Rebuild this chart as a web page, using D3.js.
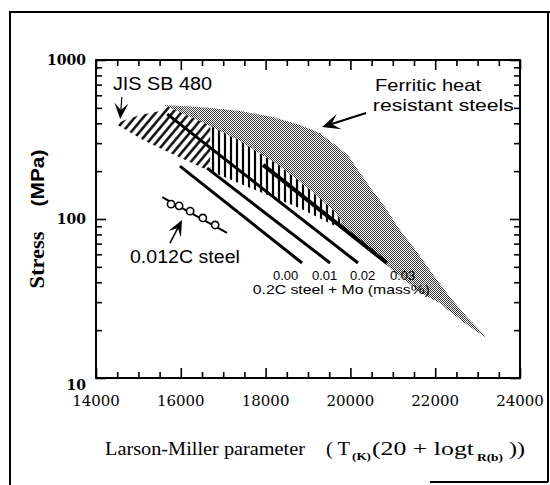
<!DOCTYPE html>
<html>
<head>
<meta charset="utf-8">
<script src="https://cdn.jsdelivr.net/npm/d3@7"></script>
<style>
  body { margin: 0; background: #fff; }
  text { fill: #000; }
</style>
</head>
<body>
<div class="chart"></div>
<script>
// Larson-Miller parameter vs stress

// dotted band "Ferritic heat resistant steels": upper edge, then lower edge back from the tip
const ferriticUpper = [
  [15630, 521], [16450, 506], [17400, 478], [18170, 438], [18810, 390],
  [19280, 347], [19640, 292], [19940, 253], [20230, 195], [20530, 150],
  [20820, 119], [21100, 90.4], [21410, 70.6], [21710, 55.2], [22040, 41.3],
  [22350, 32.3], [22750, 24.2], [23170, 18.6]
];
const ferriticLower = [
  [23170, 18.1], [22660, 22.5], [22110, 29.5], [21640, 34.6], [21170, 43.8],
  [20820, 52.1], [20230, 70.6], [19750, 91.7], [19050, 131.7], [18340, 189],
  [17400, 271.6], [16450, 373], [15650, 485]
];

// hatched band "JIS SB 480"
const jisBand = [
  [14470, 396], [14680, 419], [15040, 451], [15510, 478], [15650, 514],
  [16450, 413], [17400, 309], [18340, 215], [19050, 152], [19640, 110.7],
  [19800, 95.7], [19640, 90.4], [18810, 117], [17630, 157], [16520, 209],
  [15750, 260], [15110, 314]
];

// 0.2C steel + Mo lines
const moLevels = ["0.00", "0.01", "0.02", "0.03"];
const moStart = [[15980, 215], [16620, 209], [15680, 457], [17940, 219]];
const moEnd = [[18860, 52.9], [19520, 52.9], [20180, 52.9], [20860, 52.9]];
const moLabelX = [18175, 19094, 19991, 20934];
const moWidth = [3, 3, 3, 4];

// 0.012C steel
const lowCLine = [[15560, 137.5], [17090, 81.7]];
const lowCPoints = [[15770, 124], [15960, 121], [16220, 112], [16520, 101.5], [16810, 91.7]];

const xTicks = [14000, 16000, 18000, 20000, 22000, 24000];
const yTicks = [10, 100, 1000];

const width = 550;
const height = 485;
const margin = { top: 60, right: 30, bottom: 107, left: 96 };

const svg = d3.select(".chart")
  .append("svg")
  .attr("width", width)
  .attr("height", height);

const x = d3.scaleLinear()
  .domain([14000, 24000])
  .range([margin.left, width - margin.right]);

const y = d3.scaleLog()
  .domain([10, 1000])
  .range([height - margin.bottom, margin.top]);

const plotBottom = height - margin.bottom;
const plotRight = width - margin.right;

// patterns for the dotted and hatched areas
const defs = svg.append("defs");
const dots = defs.append("pattern")
  .attr("id", "dots")
  .attr("patternUnits", "userSpaceOnUse")
  .attr("width", 2)
  .attr("height", 2);
dots.append("rect").attr("width", 2).attr("height", 2).attr("fill", "#fff");
dots.append("rect").attr("width", 1).attr("height", 1).attr("fill", "#3a3a3a");
dots.append("rect").attr("x", 1).attr("y", 1).attr("width", 1).attr("height", 1).attr("fill", "#3a3a3a");

function hatch(id, angle, gap, w) {
  const p = defs.append("pattern")
    .attr("id", id)
    .attr("patternUnits", "userSpaceOnUse")
    .attr("width", gap)
    .attr("height", gap)
    .attr("patternTransform", `rotate(${angle})`);
  p.append("rect").attr("width", gap).attr("height", gap).attr("fill", "#fff");
  p.append("line")
    .attr("x1", gap / 2).attr("x2", gap / 2)
    .attr("y1", 0).attr("y2", gap)
    .attr("stroke", "#000")
    .attr("stroke-width", w);
}
hatch("hatchDiag", 40, 6.5, 2.4);
hatch("hatchVert", 0, 6, 2.2);

const splitX = x(16700);
defs.append("clipPath").attr("id", "clipLeft")
  .append("rect").attr("x", 0).attr("y", 0).attr("width", splitX).attr("height", height);
defs.append("clipPath").attr("id", "clipRight")
  .append("rect").attr("x", splitX).attr("y", 0).attr("width", width - splitX).attr("height", height);

// outer frame of the scanned figure
svg.append("path")
  .attr("d", "M9,12 H550 M10,12 V485 M548,12 V482 M430,482 H548")
  .attr("fill", "none")
  .attr("stroke", "#000")
  .attr("stroke-width", 2);

const area = d3.line().x(d => x(d[0])).y(d => y(d[1]));

svg.append("path")
  .datum(ferriticUpper.concat(ferriticLower))
  .attr("d", d => area(d) + "Z")
  .attr("fill", "url(#dots)");

svg.append("path")
  .datum(jisBand)
  .attr("d", d => area(d) + "Z")
  .attr("fill", "url(#hatchDiag)")
  .attr("clip-path", "url(#clipLeft)");

svg.append("path")
  .datum(jisBand)
  .attr("d", d => area(d) + "Z")
  .attr("fill", "url(#hatchVert)")
  .attr("clip-path", "url(#clipRight)");

// Mo lines
svg.append("g")
  .selectAll("line")
  .data(moLevels)
  .enter()
  .append("line")
  .attr("x1", (d, i) => x(moStart[i][0]))
  .attr("y1", (d, i) => y(moStart[i][1]))
  .attr("x2", (d, i) => x(moEnd[i][0]))
  .attr("y2", (d, i) => y(moEnd[i][1]))
  .attr("stroke", "#000")
  .attr("stroke-width", (d, i) => moWidth[i]);

svg.append("g")
  .selectAll("text")
  .data(moLevels)
  .enter()
  .append("text")
  .attr("x", (d, i) => x(moLabelX[i]))
  .attr("y", y(41.3))
  .style("font-family", "Liberation Sans, Arial, sans-serif")
  .style("font-size", "13px")
  .text(d => d);

svg.append("text")
  .attr("x", x(17700))
  .attr("y", y(33.7))
  .attr("textLength", 177)
  .attr("lengthAdjust", "spacingAndGlyphs")
  .style("font-family", "Liberation Sans, Arial, sans-serif")
  .style("font-size", "13px")
  .text("0.2C steel + Mo (mass%)");

// 0.012C steel
svg.append("path")
  .datum(lowCLine)
  .attr("d", area)
  .attr("stroke", "#000")
  .attr("stroke-width", 2)
  .attr("fill", "none");

svg.append("g")
  .selectAll("circle")
  .data(lowCPoints)
  .enter()
  .append("circle")
  .attr("cx", d => x(d[0]))
  .attr("cy", d => y(d[1]))
  .attr("r", 3.6)
  .attr("fill", "#fff")
  .attr("stroke", "#000")
  .attr("stroke-width", 1.6);

// arrows with a notched, filled head
function arrow(from, to, len, half, notch, lw) {
  const sx = x(from[0]), sy = y(from[1]);
  const tx = x(to[0]), ty = y(to[1]);
  const dx = tx - sx, dy = ty - sy;
  const n = Math.hypot(dx, dy);
  const ux = dx / n, uy = dy / n;
  const px = -uy, py = ux;
  const bx = tx - ux * len, by = ty - uy * len;
  const nx = tx - ux * (len - notch), ny = ty - uy * (len - notch);
  svg.append("line")
    .attr("x1", sx).attr("y1", sy)
    .attr("x2", nx).attr("y2", ny)
    .attr("stroke", "#000")
    .attr("stroke-width", lw);
  svg.append("path")
    .attr("d", `M${tx},${ty} L${bx + px * half},${by + py * half} L${nx},${ny} L${bx - px * half},${by - py * half} Z`)
    .attr("fill", "#000");
}
arrow([14610, 585], [14570, 425], 16, 7, 7, 1.2);
arrow([20370, 464], [19330, 379], 18, 8, 8, 2);
arrow([15745, 70.6], [16030, 98.6], 16, 7, 7, 1.5);

const labelFont = "Liberation Sans, Arial, sans-serif";
function label(text, pos, len, size) {
  svg.append("text")
    .attr("x", x(pos[0]))
    .attr("y", y(pos[1]))
    .attr("textLength", len)
    .attr("lengthAdjust", "spacingAndGlyphs")
    .style("font-family", labelFont)
    .style("font-size", size + "px")
    .text(text);
}
label("JIS SB 480", [14400, 648], 99, 18);
label("Ferritic heat", [20580, 640], 106, 16.5);
label("resistant  steels", [20530, 480], 141, 16.5);
label("0.012C steel", [14800, 52.9], 110, 18);

// axes: ticks point inward on all four sides
const xMinor = d3.range(14000, 24001, 500).filter(v => v % 2000 !== 0);
const yMinor = [];
[10, 100].forEach(dec => {
  for (let k = 2; k <= 9; k++) yMinor.push(dec * k);
});

function ticks(axis, values, size, tr) {
  svg.append("g")
    .attr("transform", tr)
    .call(axis.tickValues(values).tickSize(-size).tickFormat(""))
    .call(g => g.select(".domain").remove())
    .selectAll("line")
    .attr("stroke-width", 1.6);
}
ticks(d3.axisBottom(x), xTicks, 10, `translate(0,${plotBottom})`);
ticks(d3.axisBottom(x), xMinor, 6, `translate(0,${plotBottom})`);
ticks(d3.axisTop(x), xTicks, 10, `translate(0,${margin.top})`);
ticks(d3.axisTop(x), xMinor, 6, `translate(0,${margin.top})`);
ticks(d3.axisLeft(y), yTicks, 10, `translate(${margin.left},0)`);
ticks(d3.axisLeft(y), yMinor, 6, `translate(${margin.left},0)`);
ticks(d3.axisRight(y), yTicks, 10, `translate(${plotRight},0)`);
ticks(d3.axisRight(y), yMinor, 6, `translate(${plotRight},0)`);

svg.append("rect")
  .attr("x", margin.left)
  .attr("y", margin.top)
  .attr("width", plotRight - margin.left)
  .attr("height", plotBottom - margin.top)
  .attr("fill", "none")
  .attr("stroke", "#000")
  .attr("stroke-width", 2);

// tick labels
svg.append("g")
  .selectAll("text")
  .data(xTicks)
  .enter()
  .append("text")
  .attr("x", d => x(d))
  .attr("y", plotBottom + 28)
  .attr("text-anchor", "middle")
  .style("font-family", "DejaVu Serif, serif")
  .style("font-size", "15px")
  .text(d => d);

svg.append("g")
  .selectAll("text")
  .data(yTicks)
  .enter()
  .append("text")
  .attr("x", margin.left - 10)
  .attr("y", d => y(d) + (d === 10 ? 12 : 5))
  .attr("text-anchor", "end")
  .style("font-family", "DejaVu Serif, serif")
  .style("font-weight", "bold")
  .style("font-size", "14px")
  .text(d => d);

// axis titles
svg.append("text")
  .attr("transform", "translate(44, 260) rotate(-90)")
  .attr("text-anchor", "middle")
  .attr("textLength", 57)
  .attr("lengthAdjust", "spacingAndGlyphs")
  .style("font-family", "Liberation Serif, serif")
  .style("font-weight", "bold")
  .style("font-size", "20px")
  .text("Stress");

svg.append("text")
  .attr("transform", "translate(44, 178) rotate(-90)")
  .attr("text-anchor", "middle")
  .attr("textLength", 57)
  .attr("lengthAdjust", "spacingAndGlyphs")
  .style("font-family", "Liberation Sans, sans-serif")
  .style("font-weight", "bold")
  .style("font-size", "19px")
  .text("(MPa)");

const titleY = 455;
const titleParts = [
  { t: "Larson-Miller parameter", x: 105, len: 200, size: 19, dy: 0 },
  { t: "(  T", x: 326, len: 24, size: 18, dy: 0 },
  { t: "(K)", x: 352, len: 19, size: 11, dy: 5 },
  { t: "(20 + logt", x: 372, len: 102, size: 18, dy: 0 },
  { t: "R(b)", x: 477, len: 26, size: 11, dy: 6 },
  { t: "))", x: 509, len: 16, size: 18, dy: 0 }
];
svg.append("g")
  .selectAll("text")
  .data(titleParts)
  .enter()
  .append("text")
  .attr("x", d => d.x)
  .attr("y", d => titleY + d.dy)
  .attr("textLength", d => d.len)
  .attr("lengthAdjust", "spacingAndGlyphs")
  .style("font-family", "Liberation Serif, serif")
  .style("font-size", d => d.size + "px")
  .style("font-weight", d => d.size < 15 ? "bold" : "normal")
  .text(d => d.t);
</script>
</body>
</html>
